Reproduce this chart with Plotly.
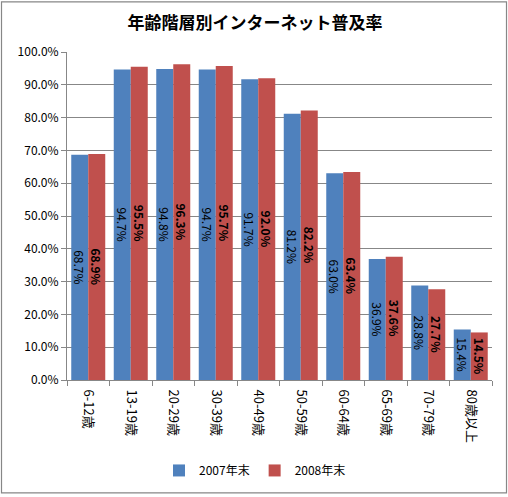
import plotly.graph_objects as go

categories = ['6-12歳', '13-19歳', '20-29歳', '30-39歳', '40-49歳',
              '50-59歳', '60-64歳', '65-69歳', '70-79歳', '80歳以上']
rate_2007 = [68.7, 94.7, 94.8, 94.7, 91.7, 81.2, 63.0, 36.9, 28.8, 15.4]
rate_2008 = [68.9, 95.5, 96.3, 95.7, 92.0, 82.2, 63.4, 37.6, 27.7, 14.5]

font = 'Noto Sans CJK JP'

fig = go.Figure()
fig.add_trace(go.Bar(
    x=categories, y=rate_2007, name='2007年末',
    marker=dict(color='#4F81BD', line=dict(width=0)),
    texttemplate='%{y:.1f}%', textposition='inside', insidetextanchor='middle',
    textangle=90, constraintext='none',
    textfont=dict(size=12, color='black', family=font),
))
fig.add_trace(go.Bar(
    x=categories, y=rate_2008, name='2008年末',
    marker=dict(color='#C0504D', line=dict(width=0)),
    texttemplate='<b>%{y:.1f}%</b>', textposition='inside', insidetextanchor='middle',
    textangle=90, constraintext='none',
    textfont=dict(size=12, color='black', family=font),
))

# outer frame around the whole chart
L, R, T, B = 67, 16, 52, 115
pw, ph = 508 - L - R, 497 - T - B
fig.add_shape(type='rect', xref='paper', yref='paper',
              x0=(1.5 - L) / pw, x1=(506.5 - L) / pw,
              y0=(382 - 495.5) / ph, y1=(382 - 1.5) / ph,
              line=dict(color='#878787', width=1.2))

fig.update_layout(
    width=508, height=497,
    margin=dict(l=L, r=R, t=T, b=B),
    paper_bgcolor='white', plot_bgcolor='white',
    font=dict(family=font, size=11, color='black'),
    title=dict(text='<b>年齢階層別インターネット普及率</b>', x=255 / 508, xanchor='center',
               xref='container', y=1 - 23 / 497, yanchor='middle', yref='container',
               font=dict(size=17)),
    barmode='group', bargap=0.2, bargroupgap=0,
    legend=dict(orientation='h', x=(255 - L) / pw, xanchor='center',
                y=(382 - 473) / ph, yanchor='middle', font=dict(size=12),
                itemwidth=30, tracegroupgap=0),
)
fig.update_xaxes(tickangle=90, tickson='boundaries', ticks='outside', ticklen=5,
                 tickcolor='#878787', showline=True, linecolor='#878787',
                 tickfont=dict(size=13), ticklabelstandoff=6, automargin=False)
fig.update_yaxes(range=[0, 100], dtick=10, tickformat='.1f', ticksuffix='%',
                 showgrid=True, gridcolor='#878787', gridwidth=1,
                 ticks='outside', ticklen=5, tickcolor='#878787',
                 showline=True, linecolor='#878787', zeroline=False,
                 tickfont=dict(size=12), automargin=False)

fig.write_html("out.html", config={'displayModeBar': False},
               post_script="document.body.style.margin='0';")
